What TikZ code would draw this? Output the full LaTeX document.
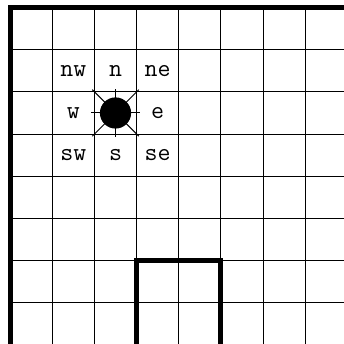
\documentclass[tikz,border=0pt]{standalone}

\begin{document}
\begin{tikzpicture}[
      x=1cm,
      y=1cm,
      gridline/.style={draw=black, line width=0.7pt},
      wall/.style={draw=black, line width=3.4pt},
      dirlabel/.style={font=\fontsize{17}{19}\selectfont\ttfamily, inner sep=0pt},
      robotbody/.style={circle, fill=black, minimum size=0.74cm, inner sep=0pt},
      sensor/.style={draw=black, line width=0.7pt}
    ]
    \useasboundingbox (-0.24,0.02) rectangle (7.92,8.18);
    \clip (-0.24,0.02) rectangle (7.92,8.18);

    \draw[gridline] (0,-1) grid (9,8);

    \draw[wall] (0,-1) -- (0,8) -- (9,8);
    \draw[wall] (3,-1) -- (3,2) -- (5,2) -- (5,-1);

    \coordinate (robotpos) at (2.5,5.5);

    \foreach \ang/\len in {0/0.57, 45/0.78, 90/0.57, 135/0.78,
                           180/0.57, 225/0.78, 270/0.57, 315/0.78}
      \draw[sensor] (robotpos) -- ++(\ang:\len);

    \node[robotbody] (robot) at (robotpos) {};

    \node[dirlabel] (nw) at (1.5,6.5) {nw};
    \node[dirlabel] (n)  at (2.5,6.5) {n};
    \node[dirlabel] (ne) at (3.5,6.5) {ne};
    \node[dirlabel] (w)  at (1.5,5.5) {w};
    \node[dirlabel] (e)  at (3.5,5.5) {e};
    \node[dirlabel] (sw) at (1.5,4.5) {sw};
    \node[dirlabel] (s)  at (2.5,4.5) {s};
    \node[dirlabel] (se) at (3.5,4.5) {se};
  \end{tikzpicture}
\end{document}
